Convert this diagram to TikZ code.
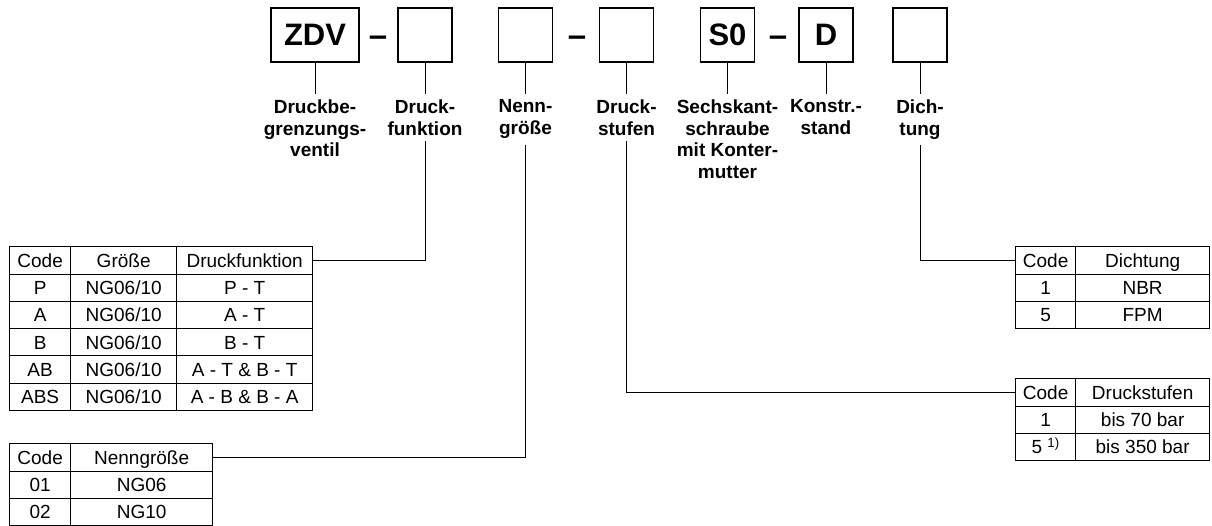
\documentclass[tikz,border=0pt]{standalone}
\usepackage{fontspec}
\setmainfont{Liberation Sans}
\usetikzlibrary{positioning,matrix}

\begin{document}
\begin{tikzpicture}[x=1pt,y=-1pt,
    feld/.style={draw,line width=1.1pt,minimum size=54pt,inner sep=0pt,
      font=\fontsize{31}{31}\selectfont\bfseries},
    strich/.style={inner sep=0pt,font=\fontsize{33}{33}\selectfont\bfseries},
    beschr/.style={align=center,inner xsep=0pt,inner ysep=6pt,
      font=\fontsize{19}{21.5}\selectfont\bfseries},
    verb/.style={line width=0.9pt},
    tabelle/.style={matrix of nodes,inner sep=0pt,anchor=north west,
      column sep=-0.9pt,row sep=-0.9pt,
      nodes={draw,line width=0.9pt,minimum height=27.3pt,inner sep=0pt,
        text height=13.6pt,text depth=0pt,
        anchor=center,font=\fontsize{19}{19}\selectfont}},
  ]
  \useasboundingbox (0,0) rectangle (1212,525);

  % Typenschluessel
  \node[feld,minimum width=88pt] (b1) at (315,35) {ZDV};
  \node[feld] (b2) at (425,35) {};
  \node[feld] (b3) at (525.5,35) {};
  \node[feld] (b4) at (626.5,35) {};
  \node[feld] (b5) at (727.5,35) {S0};
  \node[feld] (b6) at (826,35) {D};
  \node[feld] (b7) at (920,35) {};
  \node[strich,anchor=base] (s1) at (378,46) {–};
  \node[strich,anchor=base] (s2) at (577,46) {–};
  \node[strich,anchor=base] (s3) at (778,46) {–};

  % Beschriftungen
  \node[beschr,below=31pt of b1] (l1) {Druckbe-\\grenzungs-\\ventil};
  \node[beschr,below=31pt of b2] (l2) {Druck-\\funktion};
  \node[beschr,below=31pt of b3] (l3) {Nenn-\\größe};
  \node[beschr,below=31pt of b4] (l4) {Druck-\\stufen};
  \node[beschr,below=31pt of b5] (l5) {Sechskant-\\schraube\\mit Konter-\\mutter};
  \node[beschr,below=31pt of b6] (l6) {Konstr.-\\stand};
  \node[beschr,below=31pt of b7] (l7) {Dich-\\tung};
  \foreach \n in {1,...,7} {
    \draw[verb] (b\n) -- (l\n);
  }

  % Tabellen
  \matrix[tabelle,
    column 1/.style={nodes={minimum width=61pt}},
    column 2/.style={nodes={minimum width=106pt}},
    column 3/.style={nodes={minimum width=136pt}}] (tfkt) at (9,246) {
    Code & Größe & Druckfunktion \\
    P & NG06/10 & P - T \\
    A & NG06/10 & A - T \\
    B & NG06/10 & B - T \\
    AB & NG06/10 & A - T \& B - T \\
    ABS & NG06/10 & A - B \& B - A \\
  };
  \matrix[tabelle,
    column 1/.style={nodes={minimum width=61pt}},
    column 2/.style={nodes={minimum width=142pt}}] (tnenn) at (9,443) {
    Code & Nenngröße \\
    01 & NG06 \\
    02 & NG10 \\
  };
  \matrix[tabelle,
    column 1/.style={nodes={minimum width=60pt}},
    column 2/.style={nodes={minimum width=134pt}}] (tdicht) at (1015,246) {
    Code & Dichtung \\
    1 & NBR \\
    5 & FPM \\
  };
  \matrix[tabelle,
    column 1/.style={nodes={minimum width=60pt}},
    column 2/.style={nodes={minimum width=134pt}}] (tstuf) at (1015,378) {
    Code & Druckstufen \\
    1 & bis 70 bar \\
    5 \textsuperscript{1)} & bis 350 bar \\
  };

  \draw[verb] (l2.south) |- (tfkt-1-3.east);
  \draw[verb] (l3.south) |- (tnenn-1-2.east);
  \draw[verb] (l4.south) |- (tstuf-1-1.west);
  \draw[verb] (l7.south) |- (tdicht-1-1.west);
\end{tikzpicture}
\end{document}
